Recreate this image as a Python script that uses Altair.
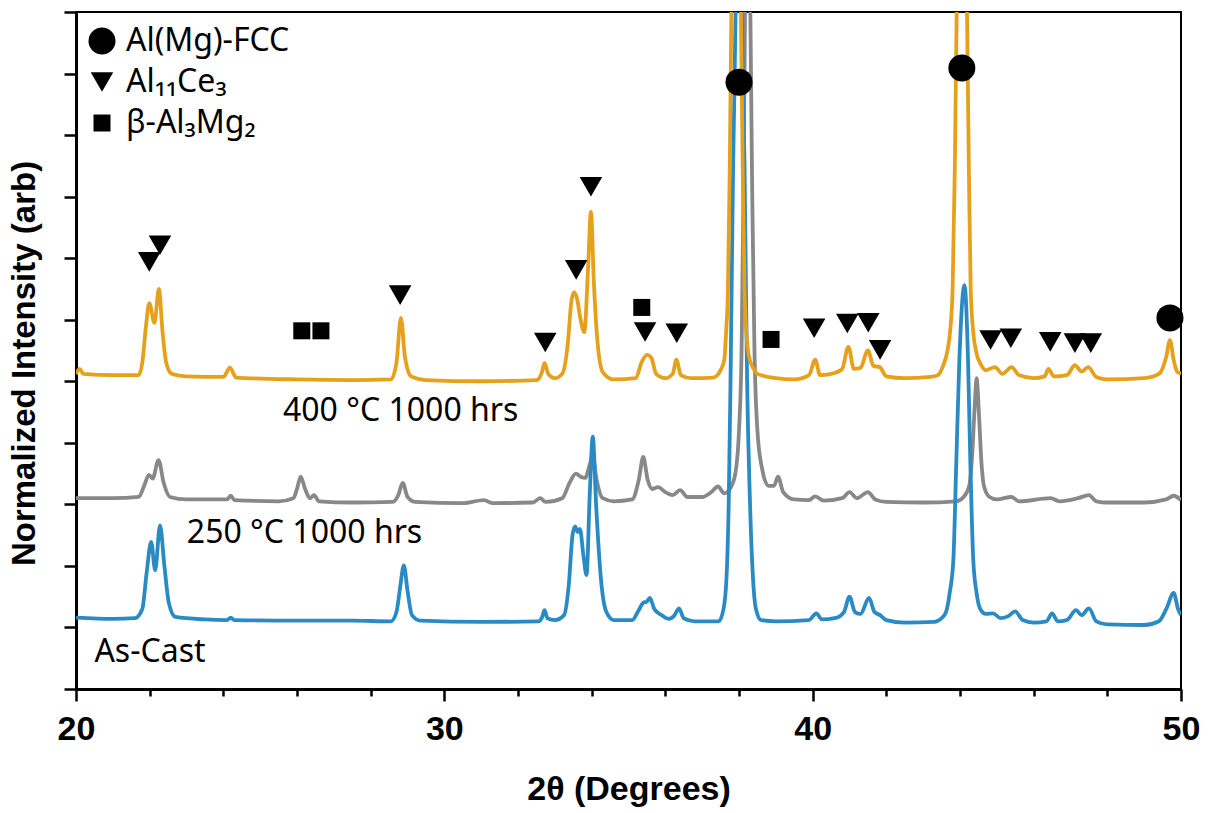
import altair as alt
import pandas as pd

# XRD patterns: (2θ in degrees, offset normalized intensity)
as_cast = [
    (20.0, 1.16), (21.0, 1.14), (21.6, 1.15), (21.8, 1.3), (21.92, 1.9), (22.04, 2.39),
    (22.15, 1.93), (22.28, 2.66), (22.4, 2.0), (22.52, 1.4), (22.7, 1.17), (23.5, 1.13),
    (24.1, 1.12), (24.2, 1.16), (24.3, 1.12), (26.0, 1.11), (27.5, 1.11), (28.55, 1.1),
    (28.7, 1.25), (28.8, 1.65), (28.9, 2.01), (29.0, 1.6), (29.12, 1.2), (29.35, 1.11),
    (31.0, 1.09), (32.55, 1.1), (32.65, 1.16), (32.72, 1.28), (32.8, 1.15), (33.0, 1.12),
    (33.25, 1.2), (33.38, 1.7), (33.48, 2.5), (33.55, 2.64), (33.62, 2.55), (33.68, 2.6),
    (33.78, 2.15), (33.86, 1.85), (33.95, 3.2), (34.03, 4.1), (34.12, 3.0), (34.25, 1.8),
    (34.4, 1.25), (34.6, 1.12), (35.1, 1.12), (35.25, 1.25), (35.4, 1.4), (35.5, 1.42),
    (35.58, 1.48), (35.7, 1.3), (35.9, 1.2), (36.1, 1.14), (36.25, 1.2), (36.37, 1.31),
    (36.5, 1.15), (36.8, 1.1), (37.45, 1.1), (37.58, 1.3), (37.66, 1.8), (37.72, 3.0),
    (37.77, 5.0), (37.84, 8.5), (37.92, 11.5), (37.98, 16.0), (38.06, 11.5), (38.15, 8.5),
    (38.22, 5.0), (38.3, 3.0), (38.38, 1.8), (38.46, 1.3), (38.6, 1.12), (39.0, 1.1),
    (39.9, 1.12), (40.1, 1.23), (40.25, 1.13), (40.6, 1.15), (40.85, 1.25), (41.0, 1.5),
    (41.15, 1.25), (41.3, 1.22), (41.53, 1.48), (41.68, 1.25), (41.83, 1.2), (42.0, 1.12),
    (42.5, 1.08), (43.3, 1.09), (43.5, 1.15), (43.62, 1.25), (43.72, 1.56), (43.82, 2.1),
    (43.9, 3.7), (43.98, 5.3), (44.12, 6.56), (44.22, 5.3), (44.28, 3.7), (44.36, 2.1),
    (44.45, 1.56), (44.55, 1.3), (44.7, 1.22), (44.9, 1.23), (45.1, 1.15), (45.3, 1.18),
    (45.5, 1.26), (45.7, 1.12), (46.0, 1.08), (46.35, 1.1), (46.5, 1.23), (46.65, 1.1),
    (46.9, 1.12), (47.15, 1.28), (47.3, 1.2), (47.5, 1.31), (47.7, 1.1), (48.0, 1.05),
    (49.0, 1.04), (49.4, 1.1), (49.6, 1.3), (49.8, 1.56), (49.92, 1.3), (50.0, 1.2),
]

aged_250 = [
    (20.0, 3.1), (21.0, 3.1), (21.7, 3.12), (21.85, 3.3), (21.98, 3.48), (22.08, 3.42),
    (22.24, 3.72), (22.38, 3.35), (22.55, 3.12), (23.0, 3.08), (24.1, 3.08), (24.2, 3.14),
    (24.3, 3.07), (25.5, 3.05), (25.9, 3.1), (26.0, 3.25), (26.1, 3.45), (26.22, 3.25),
    (26.35, 3.1), (26.46, 3.15), (26.6, 3.05), (27.5, 3.03), (28.6, 3.04), (28.75, 3.15),
    (28.87, 3.35), (29.0, 3.12), (29.2, 3.04), (30.5, 3.02), (31.08, 3.07), (31.3, 3.02),
    (32.4, 3.03), (32.6, 3.1), (32.75, 3.04), (33.2, 3.1), (33.4, 3.35), (33.57, 3.5),
    (33.7, 3.45), (33.82, 3.43), (33.95, 3.65), (34.03, 3.8), (34.12, 3.45), (34.3, 3.1),
    (34.6, 3.05), (35.1, 3.08), (35.28, 3.4), (35.4, 3.77), (35.52, 3.4), (35.65, 3.25),
    (35.8, 3.28), (36.0, 3.2), (36.2, 3.15), (36.4, 3.23), (36.6, 3.12), (37.0, 3.12),
    (37.25, 3.2), (37.43, 3.29), (37.6, 3.18), (37.75, 3.25), (37.9, 3.5), (38.0, 4.2),
    (38.07, 5.5), (38.12, 8.0), (38.17, 11.5), (38.23, 16.0), (38.3, 11.5), (38.36, 8.0),
    (38.42, 5.5), (38.5, 4.2), (38.62, 3.6), (38.8, 3.3), (38.95, 3.3), (39.06, 3.45),
    (39.2, 3.2), (39.5, 3.08), (39.9, 3.07), (40.07, 3.13), (40.3, 3.06), (40.8, 3.1),
    (41.0, 3.2), (41.2, 3.1), (41.5, 3.2), (41.7, 3.08), (42.0, 3.04), (43.0, 3.03),
    (43.9, 3.05), (44.1, 3.12), (44.25, 3.3), (44.33, 3.8), (44.4, 4.6), (44.45, 5.05),
    (44.52, 4.4), (44.58, 3.7), (44.65, 3.3), (44.8, 3.12), (45.0, 3.08), (45.4, 3.12),
    (45.6, 3.05), (46.46, 3.1), (46.7, 3.05), (47.2, 3.1), (47.5, 3.15), (47.7, 3.05),
    (48.0, 3.03), (49.0, 3.03), (49.6, 3.08), (49.8, 3.14), (50.0, 3.07),
]

aged_400 = [
    (20.0, 5.12), (20.1, 5.2), (20.2, 5.12), (21.0, 5.1), (21.7, 5.1), (21.8, 5.3),
    (21.9, 5.9), (21.99, 6.27), (22.13, 5.95), (22.25, 6.5), (22.35, 5.8), (22.45, 5.3),
    (22.6, 5.12), (23.0, 5.08), (24.0, 5.07), (24.18, 5.22), (24.35, 5.06), (26.0, 5.03),
    (27.5, 5.02), (28.55, 5.03), (28.7, 5.3), (28.82, 6.03), (28.93, 5.4), (29.1, 5.08),
    (29.5, 5.02), (31.0, 5.0), (32.5, 5.02), (32.65, 5.15), (32.72, 5.3), (32.82, 5.12),
    (33.0, 5.05), (33.2, 5.12), (33.35, 5.6), (33.45, 6.3), (33.52, 6.45), (33.6, 6.35),
    (33.7, 6.0), (33.8, 5.8), (33.9, 6.8), (33.98, 7.75), (34.06, 6.6), (34.15, 5.7),
    (34.3, 5.15), (34.6, 5.03), (35.2, 5.05), (35.35, 5.3), (35.5, 5.43), (35.62, 5.38),
    (35.75, 5.12), (36.0, 5.05), (36.2, 5.12), (36.3, 5.35), (36.42, 5.1), (36.7, 5.05),
    (37.3, 5.06), (37.5, 5.18), (37.6, 5.35), (37.65, 5.8), (37.7, 6.5), (37.75, 8.5),
    (37.8, 11.5), (37.92, 20.0), (38.04, 11.5), (38.1, 8.5), (38.15, 6.5), (38.2, 5.8),
    (38.27, 5.4), (38.4, 5.2), (38.5, 5.12), (39.0, 5.05), (39.5, 5.03), (39.9, 5.1),
    (40.07, 5.35), (40.2, 5.1), (40.5, 5.12), (40.8, 5.2), (40.97, 5.56), (41.12, 5.2),
    (41.3, 5.22), (41.5, 5.5), (41.65, 5.25), (41.82, 5.23), (42.0, 5.08), (42.5, 5.05),
    (43.2, 5.07), (43.4, 5.1), (43.54, 5.25), (43.66, 5.5), (43.73, 5.8), (43.8, 6.5),
    (43.86, 8.5), (43.92, 11.5), (44.05, 20.0), (44.18, 11.5), (44.24, 8.5), (44.29, 6.5),
    (44.36, 5.8), (44.45, 5.45), (44.56, 5.28), (44.7, 5.18), (44.95, 5.23), (45.15, 5.12),
    (45.4, 5.23), (45.6, 5.1), (46.0, 5.05), (46.3, 5.08), (46.4, 5.2), (46.55, 5.08),
    (46.9, 5.1), (47.12, 5.26), (47.3, 5.16), (47.48, 5.23), (47.7, 5.07), (48.0, 5.03),
    (49.0, 5.05), (49.4, 5.12), (49.6, 5.4), (49.7, 5.67), (49.8, 5.35), (49.9, 5.15),
    (50.0, 5.13),
]

# Phase identification markers: (2θ, marker height)
fcc_peaks = [(38.0, 9.86), (44.05, 10.09), (49.7, 6.03)]
al11ce3_peaks = [
    (21.99, 6.94), (22.28, 7.21), (28.8, 6.4), (32.74, 5.63), (33.58, 6.81), (33.98, 8.16),
    (35.45, 5.8), (36.31, 5.78), (40.04, 5.86), (40.94, 5.94), (41.51, 5.95), (41.83, 5.51),
    (44.83, 5.67), (45.38, 5.7), (46.45, 5.64), (47.12, 5.62), (47.55, 5.62),
]
beta_peaks = [(26.13, 5.82), (26.65, 5.82), (35.36, 6.2), (38.87, 5.68)]

phase_names = ["Al(Mg)-FCC", "Al₁₁Ce₃", "β-Al₃Mg₂"]
phase_shapes = ["circle", "triangle-down", "square"]
phase_sizes = [729, 289, 256]

# Sample captions placed beside each pattern
sample_labels = ["400 °C 1000 hrs", "250 °C 1000 hrs", "As-Cast"]
label_2theta = [25.62, 23.01, 20.5]
label_height = [4.35, 2.37, 0.44]

ORANGE = "#E6A11C"
GRAY = "#888888"
BLUE = "#2A8BC4"
TEXT_FONT = "Noto Sans"
AXIS_FONT = "Liberation Sans"


def pattern(points):
    return pd.DataFrame(points, columns=["two_theta", "intensity"])


markers = pd.DataFrame(
    [(t, h, phase_names[0]) for t, h in fcc_peaks]
    + [(t, h, phase_names[1]) for t, h in al11ce3_peaks]
    + [(t, h, phase_names[2]) for t, h in beta_peaks],
    columns=["two_theta", "intensity", "phase"],
)
captions = pd.DataFrame(
    {"two_theta": label_2theta, "intensity": label_height, "label": sample_labels}
)

x_scale = alt.Scale(domain=[20, 50], nice=False, zero=False)
y_scale = alt.Scale(domain=[0, 11], nice=False, zero=False)

x_major = alt.X(
    "two_theta:Q",
    scale=x_scale,
    axis=alt.Axis(
        orient="bottom",
        values=[20, 30, 40, 50],
        format="d",
        tickSize=12,
        labelFlush=False,
        labelPadding=11,
        labelFont=AXIS_FONT,
        labelFontSize=34,
        labelFontWeight="bold",
        title="2θ (Degrees)",
        titleFont=AXIS_FONT,
        titleFontSize=34,
        titleFontWeight="bold",
        titlePadding=26,
    ),
)
x_minor = alt.X(
    "two_theta:Q",
    scale=x_scale,
    axis=alt.Axis(
        orient="bottom",
        values=[22, 24, 26, 28, 32, 34, 36, 38, 42, 44, 46, 48],
        tickSize=7,
        labels=False,
        domain=False,
        title=None,
    ),
)
x_plain = alt.X("two_theta:Q", scale=x_scale, axis=None)

y_main = alt.Y(
    "intensity:Q",
    scale=y_scale,
    axis=alt.Axis(
        orient="left",
        values=list(range(0, 12)),
        tickSize=12,
        labels=False,
        title="Normalized Intensity (arb)",
        titleFont=AXIS_FONT,
        titleFontSize=33,
        titleFontWeight="bold",
        titlePadding=21,
        titleY=351,
    ),
)
y_plain = alt.Y("intensity:Q", scale=y_scale, axis=None)

line_style = dict(strokeWidth=3.8, clip=True, interpolate="monotone", strokeJoin="round")

line_250 = alt.Chart(pattern(aged_250)).mark_line(color=GRAY, **line_style).encode(
    x=x_major, y=y_main
)
line_cast = alt.Chart(pattern(as_cast)).mark_line(color=BLUE, **line_style).encode(
    x=x_minor, y=y_plain
)
line_400 = alt.Chart(pattern(aged_400)).mark_line(color=ORANGE, **line_style).encode(
    x=x_plain, y=y_plain
)

phase_legend = alt.Legend(
    orient="none",
    legendX=10,
    legendY=13,
    title=None,
    padding=0,
    labelFont=TEXT_FONT,
    labelFontSize=32,
    labelColor="black",
    labelLimit=0,
    labelOffset=8,
    rowPadding=9,
    symbolFillColor="black",
    symbolStrokeColor="black",
    symbolStrokeWidth=0,
    symbolOpacity=1,
)

phase_points = alt.Chart(markers).mark_point(filled=True, color="black", opacity=1).encode(
    x=x_plain,
    y=y_plain,
    shape=alt.Shape(
        "phase:N",
        scale=alt.Scale(domain=phase_names, range=phase_shapes),
        legend=phase_legend,
    ),
    size=alt.Size(
        "phase:N",
        scale=alt.Scale(domain=phase_names, range=phase_sizes),
        legend=phase_legend,
    ),
)

caption_text = alt.Chart(captions).mark_text(
    align="left", baseline="alphabetic", font=TEXT_FONT, fontSize=32, color="black"
).encode(x=x_plain, y=y_plain, text="label:N")

chart = (
    alt.layer(line_250, line_cast, line_400, phase_points, caption_text)
    .resolve_axis(x="independent", y="independent")
    .properties(
        width=1105,
        height=677,
        autosize=alt.AutoSizeParams(type="none"),
        padding={"left": 76, "top": 12, "right": 33, "bottom": 124},
        background="white",
    )
    .configure_view(stroke="black", strokeWidth=2)
    .configure_axis(
        domainColor="black",
        domainWidth=3,
        tickColor="black",
        tickWidth=2.5,
        labelColor="black",
        titleColor="black",
        grid=False,
    )
)

chart.save("out.html", embed_options={"renderer": "svg", "actions": False})
